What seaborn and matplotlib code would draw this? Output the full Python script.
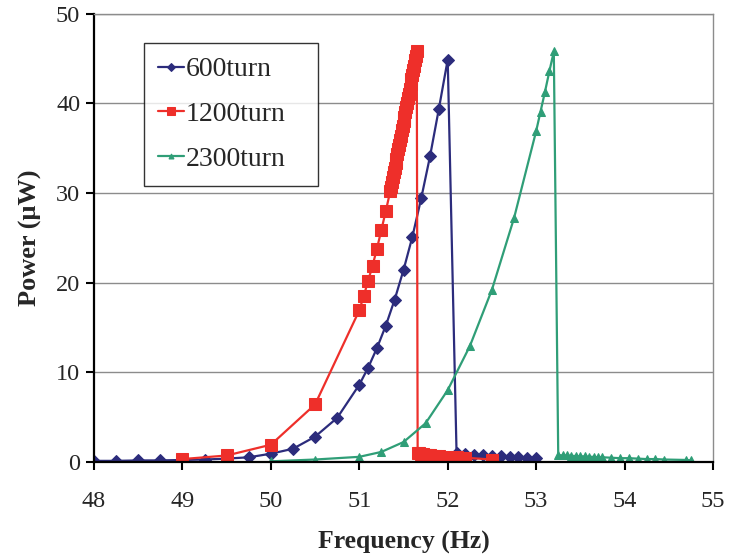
import numpy as np
import pandas as pd
import seaborn as sns
import matplotlib.pyplot as plt

# 600 turn coil
freq_600 = [48.0, 48.25, 48.5, 48.75, 49.0, 49.25, 49.5, 49.75, 50.0, 50.25, 50.5, 50.75,
            51.0, 51.1, 51.2, 51.3, 51.4, 51.5, 51.6, 51.7, 51.8, 51.9, 52.0,
            52.1, 52.2, 52.3, 52.4, 52.5, 52.6, 52.7, 52.8, 52.9, 53.0]
power_600 = [0.1, 0.1, 0.15, 0.15, 0.2, 0.25, 0.35, 0.5, 0.9, 1.45, 2.8, 4.9,
             8.6, 10.5, 12.7, 15.2, 18.1, 21.4, 25.1, 29.4, 34.1, 39.4, 44.9,
             1.0, 0.9, 0.8, 0.7, 0.65, 0.6, 0.55, 0.5, 0.45, 0.4]

# 1200 turn coil (dense sweep near the peak)
freq_1200 = [49.0, 49.5, 50.0, 50.5, 51.0, 51.05, 51.1, 51.15, 51.2, 51.25, 51.3,
             51.35, 51.36, 51.37, 51.38, 51.39, 51.40, 51.41, 51.42, 51.43, 51.44,
             51.45, 51.46, 51.47, 51.48, 51.49, 51.50, 51.51, 51.52, 51.53, 51.54,
             51.55, 51.56, 51.57, 51.58, 51.59, 51.60, 51.61, 51.62, 51.63, 51.64, 51.65,
             51.66, 51.68, 51.70, 51.72, 51.74, 51.76, 51.78, 51.80, 51.83, 51.86, 51.90,
             52.0, 52.1, 52.2, 52.5]
power_1200 = [0.3, 0.7, 1.9, 6.4, 16.9, 18.5, 20.2, 21.9, 23.8, 25.9, 28.0,
              30.2, 30.7, 31.2, 31.8, 32.3, 32.8, 33.3, 33.8, 34.4, 34.9,
              35.4, 35.9, 36.4, 37.0, 37.5, 38.0, 38.5, 39.0, 39.6, 40.1,
              40.6, 41.1, 41.6, 42.2, 42.7, 43.2, 43.7, 44.2, 44.8, 45.3, 45.8,
              1.0, 0.95, 0.9, 0.85, 0.8, 0.75, 0.7, 0.7, 0.65, 0.6, 0.6,
              0.55, 0.5, 0.45, 0.25]

# 2300 turn coil
freq_2300 = [50.0, 50.5, 51.0, 51.25, 51.5, 51.75, 52.0, 52.25, 52.5, 52.75, 53.0,
             53.05, 53.1, 53.15, 53.2, 53.25, 53.3, 53.35, 53.4, 53.45, 53.5, 53.55,
             53.6, 53.65, 53.7, 53.75, 53.85, 53.95, 54.05, 54.15, 54.25, 54.35,
             54.45, 54.7, 54.75]
power_2300 = [0.05, 0.25, 0.55, 1.1, 2.2, 4.3, 8.0, 12.9, 19.2, 27.2, 36.9,
              39.1, 41.3, 43.6, 45.8, 0.75, 0.7, 0.7, 0.65, 0.65, 0.6, 0.6,
              0.55, 0.55, 0.5, 0.5, 0.45, 0.4, 0.4, 0.35, 0.3, 0.3,
              0.25, 0.2, 0.15]

series = [
    ("600turn", freq_600, power_600, "#2c2c7c", "D", 6.5),
    ("1200turn", freq_1200, power_1200, "#ee2f2a", "s", 8.5),
    ("2300turn", freq_2300, power_2300, "#2f9e77", "^", 5.5),
]

sns.set_theme(style="white")
plt.rcParams['font.family'] = ['Liberation Serif', 'DejaVu Serif']

fig, ax = plt.subplots(figsize=(7.29, 5.55), dpi=100)
fig.subplots_adjust(left=0.129, right=0.978, top=0.975, bottom=0.168)

for name, fx, py, col, mk, ms in series:
    df = pd.DataFrame({"f": fx, "p": py})
    sns.lineplot(data=df, x="f", y="p", sort=False, estimator=None, ax=ax,
                 color=col, marker=mk, markersize=ms, markeredgecolor=col,
                 linewidth=1.6, label=name)

ax.set_xlim(48, 55)
ax.set_ylim(0, 50)
ax.set_xticks(range(48, 56))
ax.set_yticks(range(0, 51, 10))
ax.yaxis.grid(True, color="#8c8c8c", linewidth=1.0)
ax.xaxis.grid(False)
ax.set_axisbelow(True)

for side in ["left", "bottom"]:
    ax.spines[side].set_color("black")
    ax.spines[side].set_linewidth(1.6)
for side in ["top", "right"]:
    ax.spines[side].set_color("#8c8c8c")
    ax.spines[side].set_linewidth(1.0)

ax.tick_params(axis="both", direction="out", length=6, width=1.5, color="black",
               labelsize=17.5, bottom=True, left=True)
ax.tick_params(axis="x", pad=15)
ax.tick_params(axis="y", pad=4)

ax.set_xlabel("Frequency (Hz)", fontsize=18.5, fontweight="bold", labelpad=14)
ax.set_ylabel("Power (μW)", fontsize=19, fontweight="bold", labelpad=10)

leg = ax.legend(loc="upper left", bbox_to_anchor=(0.081, 0.615, 0.281, 0.32),
                mode="expand", borderaxespad=0,
                fontsize=20, frameon=True, fancybox=False, edgecolor="black",
                handlelength=0.95, handletextpad=0.05, labelspacing=0.7,
                borderpad=0.5, markerscale=0.65)
leg.get_frame().set_linewidth(1.0)

fig.savefig("out.png", dpi=100)
